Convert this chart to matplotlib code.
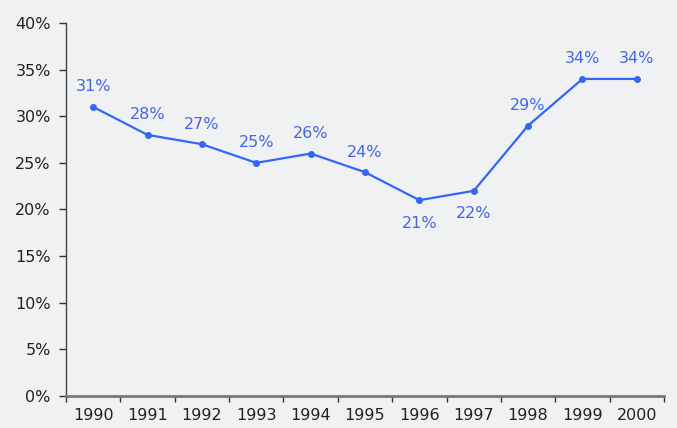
import matplotlib.pyplot as plt
from matplotlib.ticker import FuncFormatter

years = ['1990', '1991', '1992', '1993', '1994', '1995', '1996', '1997', '1998', '1999', '2000']
share = [31, 28, 27, 25, 26, 24, 21, 22, 29, 34, 34]
label_below = ['1996', '1997']

bg = '#f0f1f3'
blue = '#3366ff'
text_blue = '#4466ee'

fig = plt.figure(figsize=(6.77, 4.28), dpi=100, facecolor=bg)
ax = fig.add_axes([66/677, 32/428, 598/677, 373/428])
ax.set_facecolor(bg)

x = list(range(len(years)))
ax.plot(x, share, color=blue, linewidth=1.6, marker='o', markersize=4)

for i in range(len(years)):
    off = -23 if years[i] in label_below else 20
    ax.annotate('%d%%' % share[i], (x[i], share[i]), xytext=(0, off), textcoords='offset pixels',
                ha='center', va='center', color=text_blue, fontsize=11.5)

ax.set_xlim(-0.5, len(years) - 0.5)
ax.set_ylim(0, 40)
ax.set_yticks(range(0, 41, 5))
ax.yaxis.set_major_formatter(FuncFormatter(lambda v, p: '%d%%' % v))

# category boundaries as ticks, labels centred in between
ax.set_xticks([i - 0.5 for i in range(len(years) + 1)])
ax.set_xticklabels([])
ax.set_xticks(x, minor=True)
ax.set_xticklabels(years, minor=True)
ax.tick_params(axis='x', which='minor', length=0, pad=9, labelsize=11.5, colors='#222222')
ax.tick_params(axis='x', which='major', length=4, width=1, color='#333333', direction='out')
ax.tick_params(axis='y', length=5, width=1, color='#333333', labelsize=11.5, labelcolor='#222222', pad=6)

ax.spines['top'].set_visible(False)
ax.spines['right'].set_visible(False)
ax.spines['left'].set_color('#444444')
ax.spines['left'].set_linewidth(1.0)
ax.spines['bottom'].set_color('#777777')
ax.spines['bottom'].set_linewidth(2.0)

fig.savefig('out.png', dpi=100, facecolor=bg)
